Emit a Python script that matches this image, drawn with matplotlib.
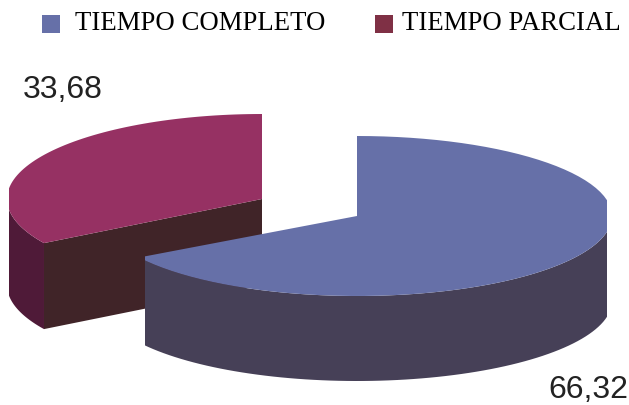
import matplotlib

matplotlib.use('Agg')
import matplotlib.pyplot as plt
import numpy as np
from matplotlib.patches import Polygon, Rectangle

categories = ['TIEMPO COMPLETO', 'TIEMPO PARCIAL']
shares = [66.32, 33.68]
value_labels = ['66,32', '33,68']

# desde arriba, en sentido horario
blue_start = 90
blue_end = blue_start - 360 * shares[0] / 100
red_end = blue_start + 360 * shares[1] / 100


def arc(cx, cy, rx, ry, a1, a2, dy=0):
    t = np.radians(np.linspace(a1, a2, 80))
    return np.column_stack([cx + rx * np.cos(t), cy - ry * np.sin(t) + dy])


def add_clipped(points, color, x_min, x_max):
    # el grafico original corta la elipse con un borde vertical
    patch = Polygon(points, color=color, lw=0)
    ax.add_patch(patch)
    patch.set_clip_path(Rectangle((x_min, 0), x_max - x_min, 406, transform=ax.transData))


fig = plt.figure(figsize=(6.29, 4.06), dpi=100)
ax = fig.add_axes([0, 0, 1, 1])
ax.set_xlim(0, 629)
ax.set_ylim(406, 0)
ax.axis('off')

# porcion roja
cx, cy, rx, ry, depth = 262, 200, 255, 85, 86
tip = arc(cx, cy, rx, ry, red_end, red_end)[0]
wall = [tuple(tip), (cx, cy), (cx, cy + depth), (tip[0], tip[1] + depth)]
add_clipped(wall, '#402428', 9, 629)
outer = np.vstack([arc(cx, cy, rx, ry, 180, red_end), arc(cx, cy, rx, ry, red_end, 180, depth)])
add_clipped(outer, '#4f1a38', 9, 629)
top = np.vstack([[(cx, cy)], arc(cx, cy, rx, ry, blue_start, red_end)])
add_clipped(top, '#963163', 9, 629)

# porcion azul
cx, cy, rx, ry, depth = 357, 217, 255, 80, 85
side = np.vstack([arc(cx, cy, rx, ry, blue_end, 0), arc(cx, cy, rx, ry, 0, blue_end, depth)])
add_clipped(side, '#464057', 145, 607)
top = np.vstack([[(cx, cy)], arc(cx, cy, rx, ry, blue_start, blue_end)])
add_clipped(top, '#6670a8', 145, 607)

# leyenda
ax.add_patch(Rectangle((42, 16), 18, 18, color='#6670a8', lw=0))
ax.add_patch(Rectangle((375, 16), 18, 18, color='#7f3045', lw=0))
ax.text(75, 24, categories[0], family='Liberation Serif', fontsize=19.3, va='center', color='black')
ax.text(402, 24, categories[1], family='Liberation Serif', fontsize=19.3, va='center', color='black')

ax.text(548, 390, value_labels[0], family='Liberation Sans', fontsize=23, va='center', color='#222222')
ax.text(23, 90, value_labels[1], family='Liberation Sans', fontsize=23, va='center', color='#222222')

plt.savefig('out.png', dpi=100)
plt.close()
